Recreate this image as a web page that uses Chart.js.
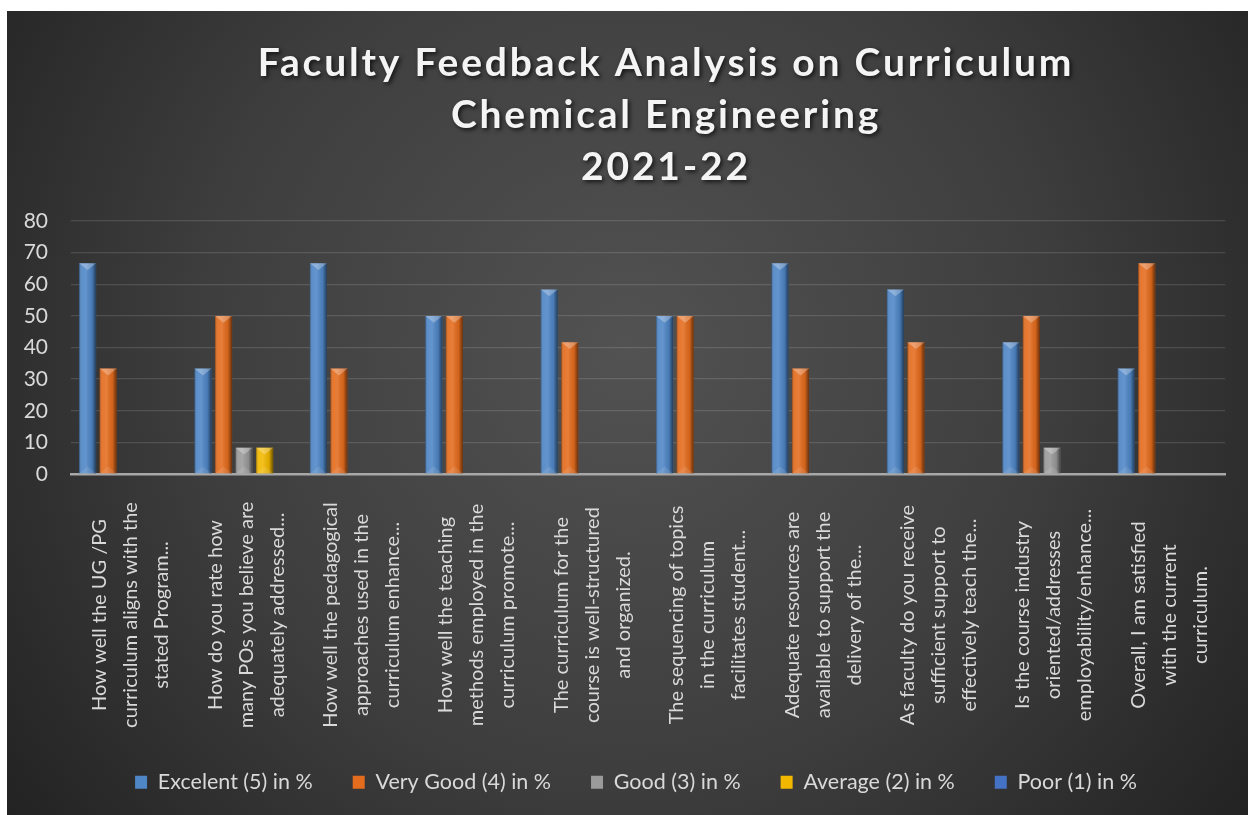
<!DOCTYPE html>
<html><head><meta charset="utf-8">
<script src="https://cdn.jsdelivr.net/npm/chart.js@4.4.1/dist/chart.umd.min.js"></script>
<style>
html,body{margin:0;padding:0;background:#fff;overflow:hidden;}
#wrap{position:absolute;left:7px;top:11px;width:1241px;height:804px;}
</style></head><body>
<div id="wrap"><canvas id="c"></canvas></div>
<script>
const titleLines = ['Faculty Feedback Analysis on Curriculum', 'Chemical Engineering', '2021-22'];
const categories = [
  ['How well the UG /PG', 'curriculum aligns with the', 'stated Program...'],
  ['How do you rate how', 'many POs you believe are', 'adequately addressed...'],
  ['How well the pedagogical', 'approaches used in the', 'curriculum enhance...'],
  ['How well the teaching', 'methods employed in the', 'curriculum promote...'],
  ['The curriculum for the', 'course is well-structured', 'and organized.'],
  ['The sequencing of topics', 'in the curriculum', 'facilitates student...'],
  ['Adequate resources are', 'available to support the', 'delivery of the...'],
  ['As faculty do you receive', 'sufficient support to', 'effectively teach the...'],
  ['Is the course industry', 'oriented/addresses', 'employability/enhance...'],
  ['Overall, I am satisfied', 'with the current', 'curriculum.']
];
const seriesNames = ['Excelent (5) in %', 'Very Good (4) in %', 'Good (3) in %', 'Average (2) in %', 'Poor (1) in %'];
const excellent = [66.67, 33.33, 66.67, 50, 58.33, 50, 66.67, 58.33, 41.67, 33.33];
const veryGood  = [33.33, 50, 33.33, 50, 41.67, 50, 33.33, 41.67, 50, 66.67];
const good      = [0, 8.33, 0, 0, 0, 0, 0, 0, 8.33, 0];
const average   = [0, 8.33, 0, 0, 0, 0, 0, 0, 0, 0];
const poor      = [0, 0, 0, 0, 0, 0, 0, 0, 0, 0];
const yMin = 0, yMax = 80, yStep = 10;

const seriesColors = ['#4F86C6', '#E46C1E', '#9A9A9A', '#F2B800', '#4472C4'];
const FONT = 'Lato, "Noto Sans", sans-serif';

const bgPlugin = {
  id: 'bg',
  beforeDraw(chart) {
    const {ctx, width, height} = chart;
    ctx.save();
    const g = ctx.createRadialGradient(width * 0.5, height * 0.42, 0, width * 0.5, height * 0.42, width * 0.62);
    g.addColorStop(0, '#525252');
    g.addColorStop(0.55, '#3e3e3e');
    g.addColorStop(1, '#232323');
    ctx.fillStyle = g;
    ctx.fillRect(0, 0, width, height);
    ctx.restore();
  }
};

const legendShift = {
  id: 'legendShift',
  afterLayout(chart) {
    if (chart.legend) { chart.legend.left += 20; chart.legend.right += 20; }
  }
};

const titlePlugin = {
  id: 'titleDraw',
  afterDraw(chart) {
    const ctx = chart.ctx;
    ctx.save();
    ctx.font = 'bold 39px ' + FONT;
    ctx.letterSpacing = '2.8px';
    ctx.fillStyle = '#f4f4f4';
    ctx.textAlign = 'center';
    ctx.textBaseline = 'middle';
    ctx.shadowColor = 'rgba(0,0,0,0.7)';
    ctx.shadowBlur = 4;
    ctx.shadowOffsetX = 2;
    ctx.shadowOffsetY = 2;
    const cx = 659;
    titleLines.forEach((t, i) => ctx.fillText(t, cx, 52 + i * 52));
    ctx.restore();
  }
};

const xLabelPlugin = {
  id: 'xLabels',
  afterDraw(chart) {
    const ctx = chart.ctx;
    const xs = chart.scales.x;
    const cy = xs.top + 141;
    ctx.save();
    ctx.font = '20px ' + FONT;
    ctx.fillStyle = '#d9d9d9';
    ctx.textAlign = 'center';
    ctx.textBaseline = 'middle';
    chart.data.labels.forEach((lines, i) => {
      const x = xs.getPixelForValue(i) + 2;
      lines.forEach((line, j) => {
        const off = (j - (lines.length - 1) / 2) * 31;
        ctx.save();
        ctx.translate(x + off, cy);
        ctx.rotate(-Math.PI / 2);
        ctx.fillText(line, 0, 0);
        ctx.restore();
      });
    });
    ctx.restore();
  }
};

const bevelPlugin = {
  id: 'bevel',
  afterDatasetsDraw(chart) {
    const ctx = chart.ctx;
    chart.data.datasets.forEach((ds, di) => {
      const meta = chart.getDatasetMeta(di);
      if (meta.hidden) return;
      meta.data.forEach(bar => {
        const {x, y, base, width} = bar.getProps(['x', 'y', 'base', 'width'], true);
        const h = base - y;
        if (h < 1) return;
        const l = x - width / 2, r = x + width / 2;
        ctx.save();
        const g = ctx.createLinearGradient(l, 0, r, 0);
        g.addColorStop(0, 'rgba(0,0,0,0.35)');
        g.addColorStop(0.15, 'rgba(255,255,255,0.08)');
        g.addColorStop(0.4, 'rgba(255,255,255,0.12)');
        g.addColorStop(0.75, 'rgba(0,0,0,0.08)');
        g.addColorStop(1, 'rgba(0,0,0,0.55)');
        ctx.fillStyle = g;
        ctx.fillRect(l, y, width, h);
        const b = Math.min(width / 2, h / 2);
        ctx.beginPath();
        ctx.moveTo(l, y); ctx.lineTo(r, y); ctx.lineTo(x, y + b * 0.8); ctx.closePath();
        ctx.fillStyle = 'rgba(255,255,255,0.28)';
        ctx.fill();
        ctx.beginPath();
        ctx.moveTo(l, base); ctx.lineTo(r, base); ctx.lineTo(x, base - b * 0.8); ctx.closePath();
        ctx.fillStyle = 'rgba(255,255,255,0.10)';
        ctx.fill();
        ctx.restore();
      });
    });
  }
};

const seriesData = [excellent, veryGood, good, average, poor];

new Chart(document.getElementById('c'), {
  type: 'bar',
  data: {
    labels: categories,
    datasets: seriesNames.map((name, i) => ({
      label: name,
      data: seriesData[i],
      backgroundColor: seriesColors[i],
      borderWidth: 0,
      categoryPercentage: 0.89,
      barPercentage: 0.83
    }))
  },
  options: {
    responsive: true,
    maintainAspectRatio: false,
    animation: false,
    layout: { padding: { top: 210, right: 23, left: 0, bottom: 12 } },
    plugins: {
      title: { display: false },
      tooltip: { enabled: false },
      legend: {
        position: 'bottom',
        labels: {
          color: '#d9d9d9',
          font: { size: 21.5, family: FONT },
          boxWidth: 12,
          boxHeight: 13,
          padding: 40
        }
      }
    },
    scales: {
      x: {
        grid: { display: false },
        border: { color: '#a8a8a8', width: 2.5 },
        ticks: { display: false },
        afterFit(scale) {
          const lg = scale.chart.legend;
          const lh = lg ? lg.height : 0;
          scale.height = scale.chart.height - 463 - lh - 12;
        }
      },
      y: {
        min: yMin, max: yMax,
        grid: { color: 'rgba(255,255,255,0.13)', lineWidth: 1.3, drawTicks: false },
        border: { display: false },
        ticks: {
          stepSize: yStep,
          color: '#d9d9d9',
          font: { size: 21, family: FONT },
          padding: 23
        },
        afterFit(scale) { scale.width = 64; }
      }
    }
  },
  plugins: [bgPlugin, legendShift, bevelPlugin, xLabelPlugin, titlePlugin]
});
</script>
</body></html>
